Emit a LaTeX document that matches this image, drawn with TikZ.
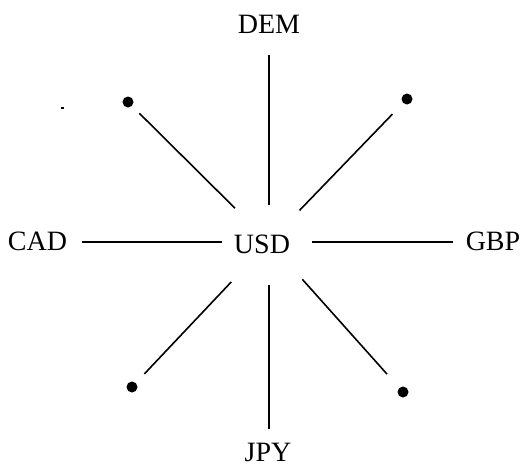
\documentclass[tikz,border=0pt]{standalone}
\usepackage{fontspec}
\setmainfont{Liberation Serif}
\begin{document}
\begin{tikzpicture}[x=1pt,y=-1pt,
  lbl/.style={inner sep=0pt, anchor=base, font=\fontsize{28}{30}\selectfont},
  dot/.style={circle, fill=black, inner sep=0pt, minimum size=11pt},
  spoke/.style={line width=1.6pt}]
\useasboundingbox (0,0) rectangle (527,467);
\coordinate (hub) at (269,242);
\node[lbl] (usd) at (262,253) {USD};
\node[lbl] (dem) at (269,33) {DEM};
\node[lbl] (jpy) at (268,461) {JPY};
\node[lbl] (cad) at (37.5,250) {CAD};
\node[lbl] (gbp) at (493,250) {GBP};
\node[dot] (tl) at (128,102) {};
\node[dot] (tr) at (407,99) {};
\node[dot] (bl) at (132,387) {};
\node[dot] (br) at (403,392) {};
\coordinate (demc) at (269,24);
\coordinate (jpyc) at (269,456);
\coordinate (cadc) at (37.5,242);
\coordinate (gbpc) at (493,242);
\draw[spoke, shorten <=37pt, shorten >=31pt] (hub) -- (demc);
\draw[spoke, shorten <=43pt, shorten >=27pt] (hub) -- (jpyc);
\draw[spoke, shorten <=47pt, shorten >=44.5pt] (hub) -- (cadc);
\draw[spoke, shorten <=43pt, shorten >=40pt] (hub) -- (gbpc);
\draw[spoke, shorten <=48pt, shorten >=16pt] (hub) -- (tl.center);
\draw[spoke, shorten <=44pt, shorten >=21pt] (hub) -- (tr.center);
\draw[spoke, shorten <=55pt, shorten >=18pt] (hub) -- (bl.center);
\draw[spoke, shorten <=50pt, shorten >=24pt] (hub) -- (br.center);
\fill (60.5,106.5) rectangle (64,109);
\end{tikzpicture}
\end{document}
